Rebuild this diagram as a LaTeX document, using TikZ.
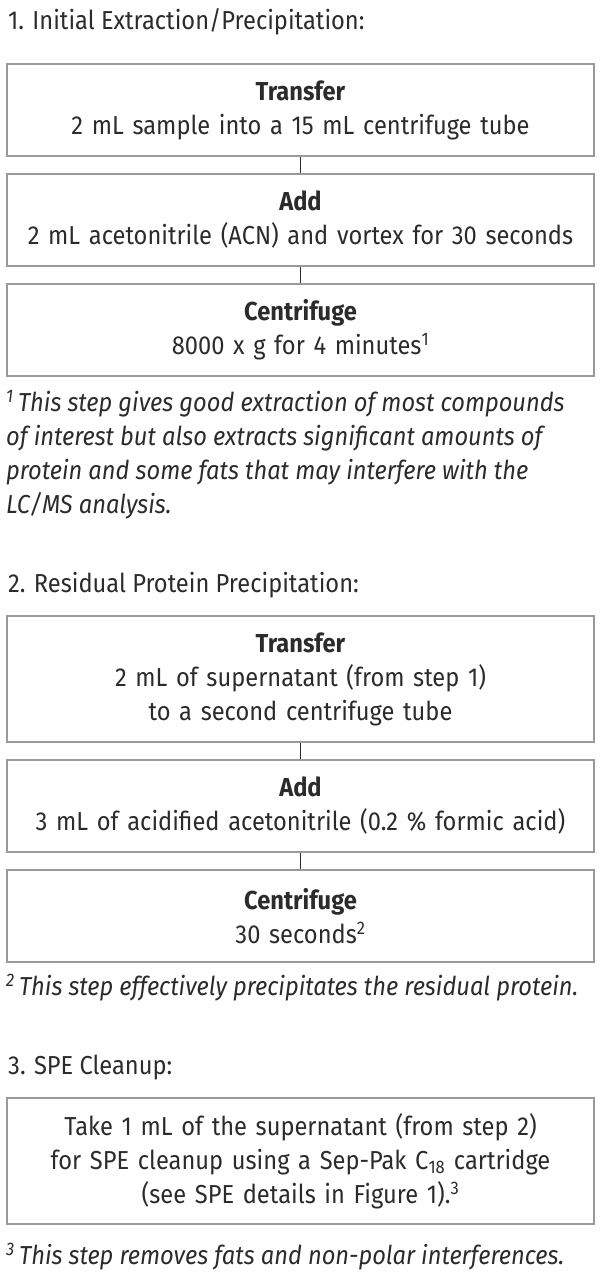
\documentclass[tikz,border=0pt]{standalone}
\usepackage{fontspec}
\setmainfont{Fira Sans}[FakeStretch=0.91]
\usetikzlibrary{positioning}
\definecolor{ink}{HTML}{2B2B2B}
\definecolor{frame}{HTML}{9A9A9A}
\tikzset{link/.style = {draw=ink, line width=1.3pt}}

\begin{document}
\begin{tikzpicture}[x=1pt,y=1pt,node distance=16pt,
  every node/.style={text=ink,font=\fontsize{26}{34}\selectfont},
  stepbox/.style={draw=frame,line width=2pt,minimum width=587pt,minimum height=92pt,text width=575pt,align=center,inner sep=0pt},
  tallbox/.style={stepbox,minimum height=126pt},
  heading/.style={anchor=west,inner sep=0pt},
  note/.style={anchor=north west,align=left,inner sep=0pt,font=\fontsize{26}{34}\selectfont\itshape}]
                \useasboundingbox (0,0) rectangle (600,-1280);

                % step 1
                \node[heading] (h1) at (8,-22) {1. Initial Extraction/Precipitation:};
                \node[stepbox] (a1) at (300.5,-110) {\textbf{Transfer}\\2 mL sample into a 15 mL centrifuge tube};
                \node[stepbox] (a2) [below=of a1] {\textbf{Add}\\2 mL acetonitrile (ACN) and vortex for 30 seconds};
                \node[stepbox] (a3) [below=of a2] {\textbf{Centrifuge}\\8000 x g for 4 minutes\textsuperscript{1}};
                \node[note] (n1) at (6,-390) {\textsuperscript{1}\,This step gives good extraction of most compounds\\of interest but also extracts significant amounts of\\protein and some fats that may interfere with the\\LC/MS analysis.};

                % step 2
                \node[heading] (h2) at (8,-585) {2. Residual Protein Precipitation:};
                \node[tallbox] (b1) at (300.5,-679) {\textbf{Transfer}\\2 mL of supernatant (from step 1)\\to a second centrifuge tube};
                \node[stepbox] (b2) [below=of b1] {\textbf{Add}\\3 mL of acidified acetonitrile (0.2 \% formic acid)};
                \node[stepbox] (b3) [below=of b2] {\textbf{Centrifuge}\\30 seconds\textsuperscript{2}};
                \node[note] (n2) at (6,-974) {\textsuperscript{2}\,This step effectively precipitates the residual protein.};

                % step 3
                \node[heading] (h3) at (8,-1068) {3. SPE Cleanup:};
                \node[tallbox] (c1) at (300.5,-1161) {Take 1 mL of the supernatant (from step 2)\\for SPE cleanup using a Sep-Pak C\textsubscript{18} cartridge\\(see SPE details in Figure 1).\textsuperscript{3}};
                \node[note] (n3) at (6,-1243) {\textsuperscript{3}\,This step removes fats and non-polar interferences.};

                \path[link] (a1) edge (a2);
                \path[link] (a2) edge (a3);
                \path[link] (b1) edge (b2);
                \path[link] (b2) edge (b3);
            \end{tikzpicture}
\end{document}
